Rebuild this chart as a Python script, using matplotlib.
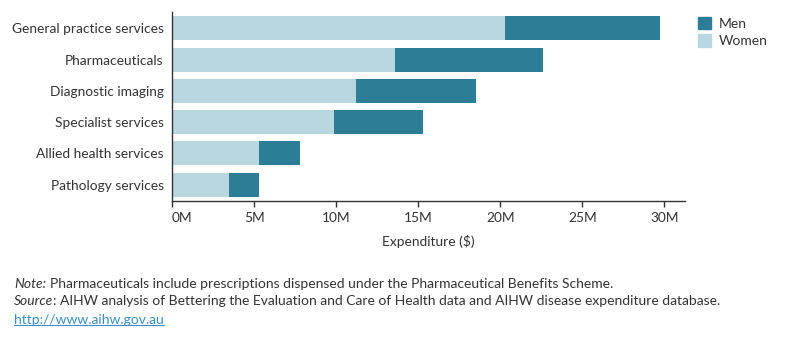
import matplotlib
matplotlib.use("Agg")
import matplotlib.pyplot as plt
from matplotlib.patches import Patch

plt.rcParams['font.family'] = ['Lato', 'DejaVu Sans']

categories = ['General practice services', 'Pharmaceuticals', 'Diagnostic imaging',
              'Specialist services', 'Allied health services', 'Pathology services']
women = [20.3, 13.6, 11.2, 9.85, 5.3, 3.45]
men = [9.45, 9.0, 7.3, 5.45, 2.5, 1.85]
xticks = [0, 5, 10, 15, 20, 25, 30]
xticklabels = ['0M', '5M', '10M', '15M', '20M', '25M', '30M']

men_color = '#2e7d96'
women_color = '#b8d7e0'
text_color = '#333333'

fig = plt.figure(figsize=(8, 3.5), dpi=100)
ax = fig.add_axes([172 / 800, 1 - 201 / 350, (685 - 172) / 800, (201 - 12) / 350])

y = list(range(len(categories)))
ax.barh(y, women, height=0.77, color=women_color, label='Women')
ax.barh(y, men, left=women, height=0.77, color=men_color, label='Men')

ax.set_ylim(5.52, -0.52)
ax.set_xlim(0, 31.25)
ax.set_yticks(y)
ax.set_yticklabels(categories, fontsize=9.9, color=text_color)
ax.set_xticks(xticks)
ax.set_xticklabels(xticklabels, fontsize=9.9, color=text_color)
ax.get_xticklabels()[0].set_horizontalalignment('left')
ax.tick_params(axis='y', length=0, pad=6)
ax.tick_params(axis='x', length=4, width=1, color=text_color, pad=4)
for s in ['top', 'right']:
    ax.spines[s].set_visible(False)
for s in ['left', 'bottom']:
    ax.spines[s].set_color(text_color)
    ax.spines[s].set_linewidth(1)
ax.set_xlabel('Expenditure ($)', fontsize=9.9, color=text_color, labelpad=8)

handles = [Patch(color=men_color, label='Men'), Patch(color=women_color, label='Women')]
fig.legend(handles=handles, loc='upper left', bbox_to_anchor=(692 / 800, 1 - 11 / 350),
           frameon=False, fontsize=10, handlelength=1.0, handleheight=1.0,
           handletextpad=0.5, labelspacing=0.35, labelcolor=text_color, borderaxespad=0)

fig.canvas.draw()
r = fig.canvas.get_renderer()

def note_line(ypx, italic, rest, gap):
    t = fig.text(14 / 800, 1 - ypx / 350, italic, fontsize=10, style='italic',
                 color=text_color, va='center')
    bb = t.get_window_extent(r)
    fig.text((bb.x1 + gap) / 800, 1 - ypx / 350, rest, fontsize=10,
             color=text_color, va='center')

note_line(284, 'Note:', 'Pharmaceuticals include prescriptions dispensed under the Pharmaceutical Benefits Scheme.', 4)
note_line(301, 'Source', ': AIHW analysis of Bettering the Evaluation and Care of Health data and AIHW disease expenditure database.', 0)
link = fig.text(14 / 800, 1 - 320 / 350, 'http://www.aihw.gov.au', fontsize=10,
                color='#3a8fc6', va='center')
bb = link.get_window_extent(r)
fig.add_artist(plt.Line2D([bb.x0 / 800, bb.x1 / 800], [(bb.y0 + 1) / 350, (bb.y0 + 1) / 350],
                          color='#3a8fc6', linewidth=0.8))

fig.savefig('out.png', dpi=100)
